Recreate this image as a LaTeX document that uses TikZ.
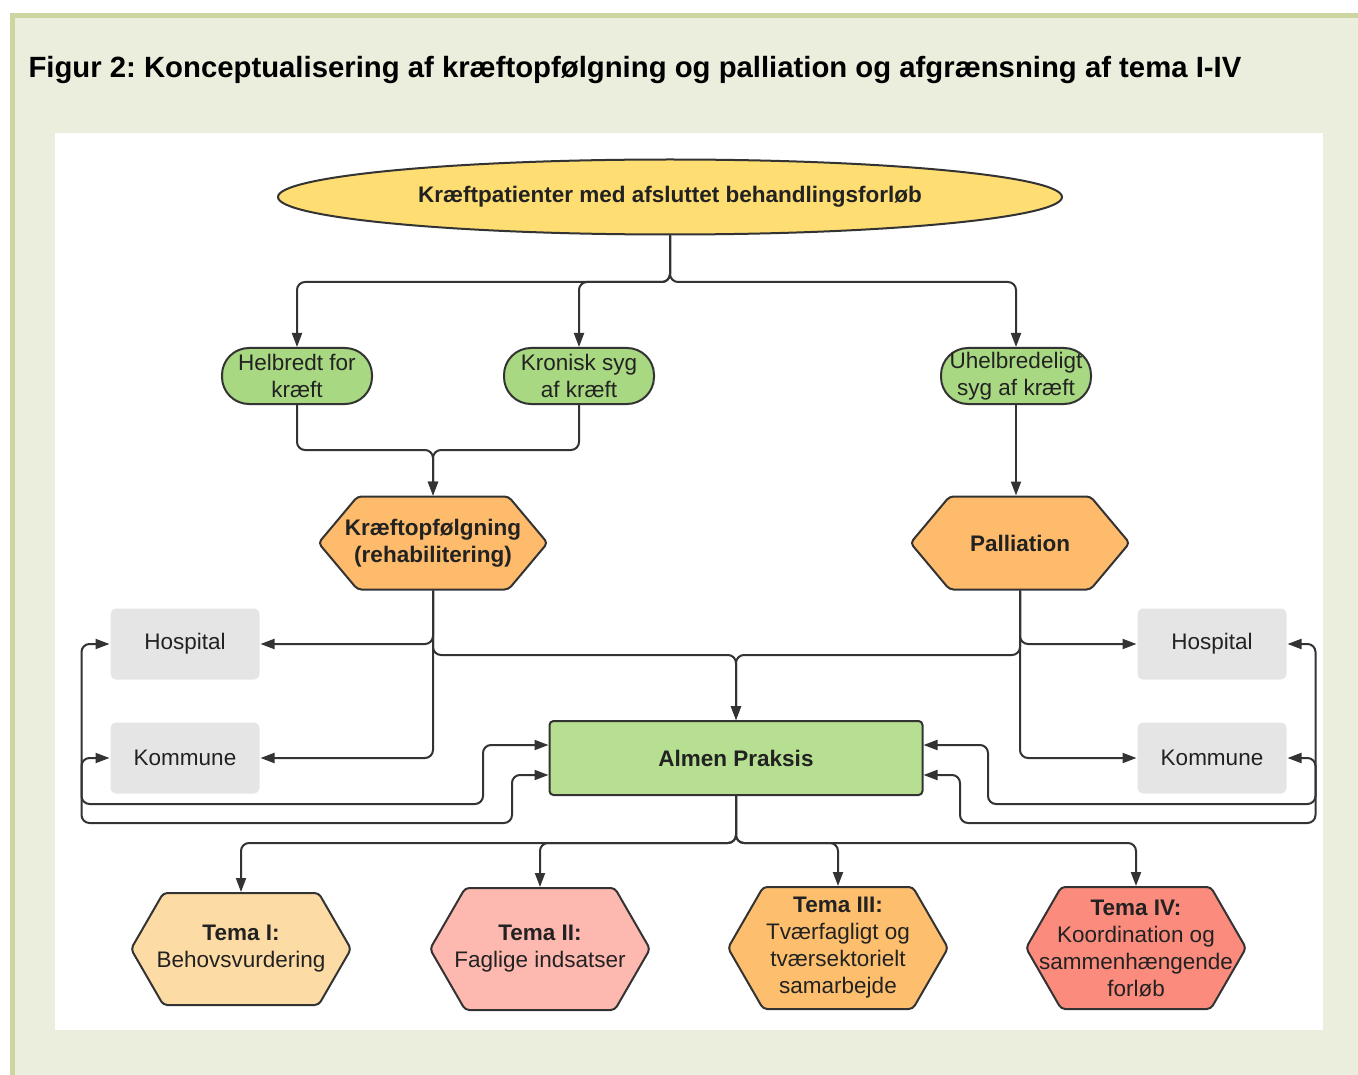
\documentclass[tikz,border=0pt]{standalone}
\usepackage{fontspec}
\setmainfont{Liberation Sans}
\frenchspacing
\usetikzlibrary{
  arrows.meta, % for the Triangle arrow tip
  positioning, % for relative placement of some boxes
  shapes.geometric, % ellipse
  shapes.symbols % signal, used as the hexagons
}
\definecolor{pagebg}{HTML}{EBEEDD}
\definecolor{pageborder}{HTML}{CDD5A0}
\definecolor{linegray}{HTML}{333333}
\definecolor{textdark}{HTML}{222222}
\definecolor{yellowfill}{HTML}{FEDD72}
\definecolor{greenfill}{HTML}{A8D882}
\definecolor{hubfill}{HTML}{B6DF91}
\definecolor{orangefill}{HTML}{FDBB6B}
\definecolor{sitegray}{HTML}{E5E5E5}
\definecolor{temaone}{HTML}{FDDBA5}
\definecolor{tematwo}{HTML}{FDB8AF}
\definecolor{temathree}{HTML}{FDBF6D}
\definecolor{temafour}{HTML}{FB8B7D}
\tikzset{
  box/.style={ % common look of all boxes
    draw=linegray,line width=2pt,text=textdark,
    align=center,inner sep=0pt,
    font=\fontsize{22.5}{27}\selectfont,
  },
  cohort/.style={ % the starting ellipse
    box,ellipse,fill=yellowfill,
    minimum width=784pt,minimum height=75pt,
    font=\fontsize{22.5}{27}\selectfont\bfseries,
  },
  outcome/.style={ % green pills
    box,rectangle,rounded corners=27pt,fill=greenfill,inner xsep=-12pt,
    minimum width=150pt,minimum height=56pt,
  },
  hexa/.style={ % orange hexagons
    box,signal,signal to=west and east,signal pointer angle=100,
    fill=orangefill,rounded corners=4pt,inner xsep=-30pt,
    minimum width=229pt,minimum height=93pt,
    font=\fontsize{22.5}{27}\selectfont\bfseries,
  },
  tema/.style={ % the four themes
    hexa,signal pointer angle=120,
    minimum width=220pt,minimum height=122pt,
    font=\fontsize{22.5}{27}\selectfont,
  },
  site/.style={ % grey boxes without border
    box,draw=none,fill=sitegray,rounded corners=6pt,
    minimum width=149pt,minimum height=71pt,
  },
  hub/.style={ % Almen Praksis
    box,rectangle,fill=hubfill,rounded corners=4pt,
    minimum width=373pt,minimum height=74pt,
    font=\fontsize{22.5}{27}\selectfont\bfseries,
  },
  conn/.style={ % connectors
    -{Triangle[length=14pt,width=10pt]},
    draw=linegray,line width=2pt,rounded corners=8pt,
  },
  biconn/.style={ % connectors with a tip at both ends
    conn,{Triangle[length=14pt,width=10pt]}-{Triangle[length=14pt,width=10pt]},
  },
}
\begin{document}
\begin{tikzpicture}[x=1pt,y=1pt]
  % page background
  \useasboundingbox (0,0) rectangle (1358,-1075);
  \fill[white] (0,0) rectangle (1358,-1075);
  \fill[pageborder] (10,-13) rectangle (1358,-1075);
  \fill[pagebg] (15,-18) rectangle (1358,-1075);
  \fill[white] (55,-133) rectangle (1323,-1030);

  \node[anchor=base west,text=black,font=\fontsize{29.3}{35}\selectfont\bfseries]
    (title) at (25,-78)
    {Figur 2: Konceptualisering af kræftopfølgning og palliation og afgrænsning af tema I-IV};

  \node[cohort] (cohort) at (670,-197)
  {Kræftpatienter med afsluttet behandlingsforløb};
  \node[outcome] (cured) at (297,-376)
  {Helbredt for\\kræft};
  \node[outcome,right=130pt of cured] (chronic)
  {Kronisk syg\\af kræft};
  \node[outcome] (incurable) at (1016,-376)
  {Uhelbredeligt\\syg af kræft};

  \node[hexa] (followup) at (433,-543)
  {Kræftopfølgning\\(rehabilitering)};
  \node[hexa,minimum width=219pt] (palliation) at (1020,-543)
  {Palliation};

  \node[site] (hospL) at (185,-644) {Hospital};
  \node[site,below=41pt of hospL] (kommL) {Kommune};
  \node[site] (hospR) at (1212,-644) {Hospital};
  \node[site,below=41pt of hospR] (kommR) {Kommune};
  \node[hub] (gp) at (736,-758) {Almen Praksis};

  \node[tema,fill=temaone,minimum height=112pt] (tema1) at (241,-949)
  {\textbf{Tema I:}\\Behovsvurdering};
  \node[tema,fill=tematwo] (tema2) at (540,-949)
  {\textbf{Tema II:}\\Faglige indsatser};
  \node[tema,fill=temathree] (tema3) at (838,-948)
  {\textbf{Tema III:}\\Tværfagligt og\\tværsektorielt\\samarbejde};
  \node[tema,fill=temafour] (tema4) at (1136,-948)
  {\textbf{Tema IV:}\\Koordination og\\sammenhængende\\forløb};

  % branch points
  \coordinate (split1) at (670,-282);
  \coordinate (join1) at (433,-450);
  \coordinate (split2) at (736,-655);
  \coordinate (split3) at (736,-843);
  \coordinate (lk) at (483,-804);
  \coordinate (lh) at (512,-823);
  \coordinate (rk) at (988,-804);
  \coordinate (rh) at (960,-823);

  \draw[conn] (cohort.south) -- (split1) -| (cured.north);
  \draw[conn] (cohort.south) -- (split1) -| (chronic.north);
  \draw[conn] (cohort.south) -- (split1) -| (incurable.north);

  \draw[conn] (cured.south) |- (join1) -- (followup.north);
  \draw[conn] (chronic.south) |- (join1) -- (followup.north);
  \draw[conn] (incurable.south) -- (incurable.south |- palliation.north);

  \draw[conn] (followup.south) |- (hospL.east);
  \draw[conn] (followup.south) |- (kommL.east);
  \draw[conn] (followup.south) |- (split2) -- (gp.north);
  \draw[conn] (palliation.south) |- (hospR.west);
  \draw[conn] (palliation.south) |- (kommR.west);
  \draw[conn] (palliation.south) |- (split2) -- (gp.north);

  \draw[biconn] (kommL.west) -- ++(-28,0) |- (lk) |- ([yshift=13pt]gp.west);
  \draw[biconn] (hospL.west) -- ++(-28,0) |- (lh) |- ([yshift=-17pt]gp.west);
  \draw[biconn] (kommR.east) -- ++(28,0) |- (rk) |- ([yshift=13pt]gp.east);
  \draw[biconn] (hospR.east) -- ++(28,0) |- (rh) |- ([yshift=-17pt]gp.east);

  \draw[conn] (gp.south) -- (split3) -| (tema1.north);
  \draw[conn] (gp.south) -- (split3) -| (tema2.north);
  \draw[conn] (gp.south) -- (split3) -| (tema3.north);
  \draw[conn] (gp.south) -- (split3) -| (tema4.north);
\end{tikzpicture}
\end{document}
